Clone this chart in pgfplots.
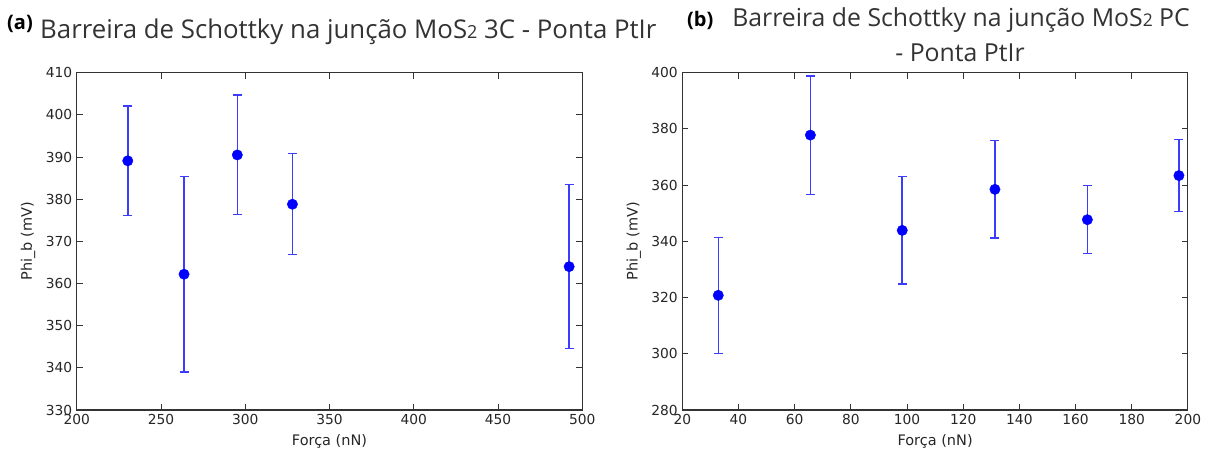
\documentclass[border=0pt]{standalone}
\usepackage{fontspec}
\setmainfont{DejaVu Sans}
\newfontfamily\titlefont{Open Sans}
\usepackage{pgfplots}
\usepackage{pgfplotstable}
\pgfplotsset{compat=1.18}
\definecolor{ebar}{RGB}{60,60,255}

\pgfplotstableread{
x y e
230.3 389.1 13.0
263.7 362.2 23.2
295.3 390.5 14.2
328.0 378.8 12.0
492.2 364.0 19.5
}\dataA

\pgfplotstableread{
x y e
32.8 320.8 20.7
65.6 377.8 21.0
98.3 343.9 19.1
131.3 358.5 17.3
164.2 347.7 12.1
196.8 363.4 12.9
}\dataB

\pgfplotsset{
  myax/.style={
    scale only axis,
    width=505.6pt, height=337.3pt,
    anchor=south west,
    axis line style={line width=1.1pt, black!80},
    tick style={line width=0.9pt, black!80},
    major tick length=6pt,
    tick align=inside,
    xtick pos=both, ytick pos=both,
    minor tick num=0,
    tick label style={font=\fontsize{13.8}{14}\selectfont, text=black!85},
    /pgf/number format/assume math mode=true,
    /pgf/number format/1000 sep={},
    xticklabel style={yshift=-1pt},
    yticklabel style={xshift=-1pt},
    label style={font=\fontsize{14.5}{15}\selectfont, text=black!85},
    xlabel style={at={(axis description cs:0.5,-0.094)}, anchor=center},
    ylabel style={at={(axis description cs:-0.096,0.5)}, anchor=center},
    xlabel={Força (nN)},
    ylabel={Phi\_b (mV)},
  },
  mypl/.style={
    only marks, draw=blue, fill=blue,
    mark=*, mark size=5.2pt, mark options={fill=blue, draw=blue},
    error bars/.cd, y dir=both, y explicit,
    error bar style={line width=1.5pt, draw=ebar},
    error mark options={rotate=90, mark size=4.5pt, line width=1.2pt, draw=ebar, fill=ebar},
  },
}

\begin{document}
\begin{tikzpicture}
\useasboundingbox (0pt,0pt) rectangle (1217pt,457pt);

\begin{axis}[myax, at={(76.7pt,47pt)},
  xmin=200, xmax=500, ymin=330, ymax=410,
  xtick={200,250,...,500}, ytick={330,340,...,410}]
\addplot[mypl] table[x=x, y=y, y error=e] {\dataA};
\end{axis}

\begin{axis}[myax, at={(682.3pt,47pt)},
  xmin=20, xmax=200, ymin=280, ymax=400,
  xtick={20,40,...,200}, ytick={280,300,...,400}]
\addplot[mypl] table[x=x, y=y, y error=e] {\dataB};
\end{axis}

\node[anchor=base west, inner sep=0, font=\titlefont\bfseries\fontsize{20}{22}\selectfont] at (7pt,427pt) {(a)};
\node[anchor=base west, inner sep=0, font=\titlefont\fontsize{25.8}{27}\selectfont, text=black!80] at (40pt,418pt) {Barreira de Schottky na junção MoS{\fontsize{18}{18}\selectfont 2} 3C - Ponta PtIr};

\node[anchor=base west, inner sep=0, font=\titlefont\bfseries\fontsize{20}{22}\selectfont] at (687pt,430pt) {(b)};
\node[anchor=base east, inner sep=0, font=\titlefont\fontsize{24.8}{26}\selectfont, text=black!80] at (1190pt,430pt) {Barreira de Schottky na junção MoS{\fontsize{17.5}{17.5}\selectfont 2} PC};
\node[anchor=base, inner sep=0, font=\titlefont\fontsize{24.8}{26}\selectfont, text=black!80] at (960pt,395pt) {- Ponta PtIr};
\end{tikzpicture}
\end{document}
